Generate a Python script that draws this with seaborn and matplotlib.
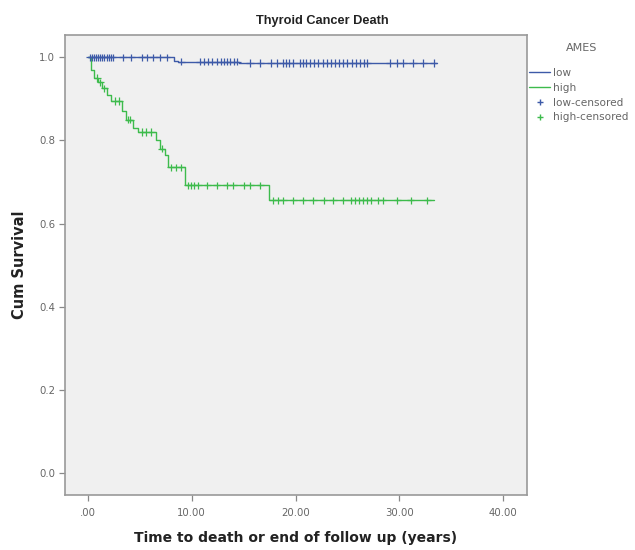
import numpy as np
import pandas as pd
import matplotlib
matplotlib.use("Agg")
import matplotlib.pyplot as plt
from matplotlib.lines import Line2D
import seaborn as sns

# Kaplan-Meier step estimates (time in years, cumulative survival)
low_times = [0.0, 8.3, 8.7, 14.6, 33.6]
low_surv = [1.0, 0.992, 0.989, 0.986, 0.986]
high_times = [0.0, 0.3, 0.6, 1.0, 1.4, 1.8, 2.2, 3.3, 3.7, 4.3, 4.8, 6.6, 6.9,
              7.4, 7.7, 9.4, 17.4, 33.3]
high_surv = [1.0, 0.97, 0.95, 0.94, 0.925, 0.91, 0.895, 0.87, 0.85, 0.83, 0.82,
             0.80, 0.78, 0.765, 0.735, 0.692, 0.656, 0.656]

# Censoring times per group
low_censored = [0.2, 0.4, 0.6, 0.8, 1.0, 1.2, 1.4, 1.6, 1.8, 2.0, 2.2, 2.4, 3.4,
                4.2, 5.2, 5.7, 6.3, 6.9, 7.6, 9.0, 10.8, 11.2, 11.6, 12.0, 12.4,
                12.8, 13.1, 13.4, 13.7, 14.1, 14.4, 15.6, 16.6, 17.6, 18.2, 18.8,
                19.1, 19.4, 19.8, 20.4, 20.7, 21.0, 21.4, 21.8, 22.2, 22.6, 23.0,
                23.4, 23.8, 24.2, 24.6, 25.0, 25.4, 25.8, 26.2, 26.6, 26.9, 29.1,
                29.8, 30.4, 31.3, 32.3, 33.3]
high_censored = [0.9, 1.2, 1.6, 2.6, 3.0, 3.9, 4.1, 5.2, 5.6, 6.1, 7.1, 8.0,
                 8.5, 9.0, 9.6, 9.9, 10.2, 10.6, 11.5, 12.4, 13.4, 14.0, 15.0,
                 15.6, 16.6, 17.8, 18.3, 18.8, 19.8, 20.7, 21.7, 22.7, 23.6,
                 24.6, 25.3, 25.7, 26.1, 26.5, 26.9, 27.3, 27.9, 28.4, 29.8,
                 31.1, 32.7]

x_ticks = [0, 10, 20, 30, 40]
x_tick_labels = [".00", "10.00", "20.00", "30.00", "40.00"]
y_ticks = [0.0, 0.2, 0.4, 0.6, 0.8, 1.0]
y_tick_labels = ["0.0", "0.2", "0.4", "0.6", "0.8", "1.0"]
legend_labels = ["low", "high", "low-censored", "high-censored"]

palette = {"low": "#3d5aa8", "high": "#3dbb4c"}


def step_value(times, surv, t):
    idx = np.searchsorted(times, t, side="right") - 1
    return surv[idx]


curves = pd.concat([
    pd.DataFrame({"time": low_times, "surv": low_surv, "AMES": "low"}),
    pd.DataFrame({"time": high_times, "surv": high_surv, "AMES": "high"}),
], ignore_index=True)

censors = pd.concat([
    pd.DataFrame({"time": low_censored,
                  "surv": [step_value(low_times, low_surv, t) for t in low_censored],
                  "AMES": "low"}),
    pd.DataFrame({"time": high_censored,
                  "surv": [step_value(high_times, high_surv, t) for t in high_censored],
                  "AMES": "high"}),
], ignore_index=True)

sns.set_style("white")
plt.rcParams["font.family"] = ["DejaVu Sans"]

fig = plt.figure(figsize=(6.35, 5.5), dpi=100)
ax = fig.add_axes([0.1024, 0.10, 0.7276, 0.836])
ax.set_facecolor("#f0f0f0")

sns.lineplot(data=curves, x="time", y="surv", hue="AMES", palette=palette,
             estimator=None, drawstyle="steps-post", linewidth=1.0,
             legend=False, ax=ax)
sns.scatterplot(data=censors, x="time", y="surv", hue="AMES", palette=palette,
                marker="+", s=28, linewidth=0.9, legend=False, ax=ax, zorder=3)

ax.set_xlim(-2.2, 42.3)
ax.set_ylim(-0.053, 1.053)
ax.set_xticks(x_ticks)
ax.set_xticklabels(x_tick_labels)
ax.set_yticks(y_ticks)
ax.set_yticklabels(y_tick_labels)
ax.tick_params(axis="both", direction="out", length=4, width=0.9,
               colors="#888888", labelcolor="#666666", labelsize=7.3,
               bottom=True, left=True)
ax.tick_params(axis="x", pad=5)
ax.tick_params(axis="y", pad=3)
for sp in ax.spines.values():
    sp.set_color("#999999")
    sp.set_linewidth(1.2)

ax.set_xlabel("Time to death or end of follow up (years)", fontsize=10,
              fontweight="bold", color="#222222", labelpad=10)
ax.set_ylabel("Cum Survival", fontsize=10.5, fontweight="bold",
              color="#222222", labelpad=8.5)
fig.text(0.508, 1 - 21 / 550, "Thyroid Cancer Death", ha="center", va="center",
         fontsize=9.2, fontweight="bold", color="#222222",
         family=["Liberation Sans", "DejaVu Sans"])

handles = [
    Line2D([], [], color=palette["low"], lw=1.0),
    Line2D([], [], color=palette["high"], lw=1.0),
    Line2D([], [], color=palette["low"], marker="+", ls="", ms=5),
    Line2D([], [], color=palette["high"], marker="+", ls="", ms=5),
]
leg = ax.legend(handles, legend_labels, loc="upper left",
                bbox_to_anchor=(1.0, 0.933), frameon=False, fontsize=7.6,
                handlelength=2.0, handletextpad=0.3, labelspacing=0.45,
                borderaxespad=0.0, borderpad=0.2)
for txt in leg.get_texts():
    txt.set_color("#666666")
fig.text(582 / 635, 1 - 48 / 550, "AMES", ha="center", va="center",
         fontsize=8, color="#666666")

fig.savefig("out.png", dpi=100, facecolor="white")
